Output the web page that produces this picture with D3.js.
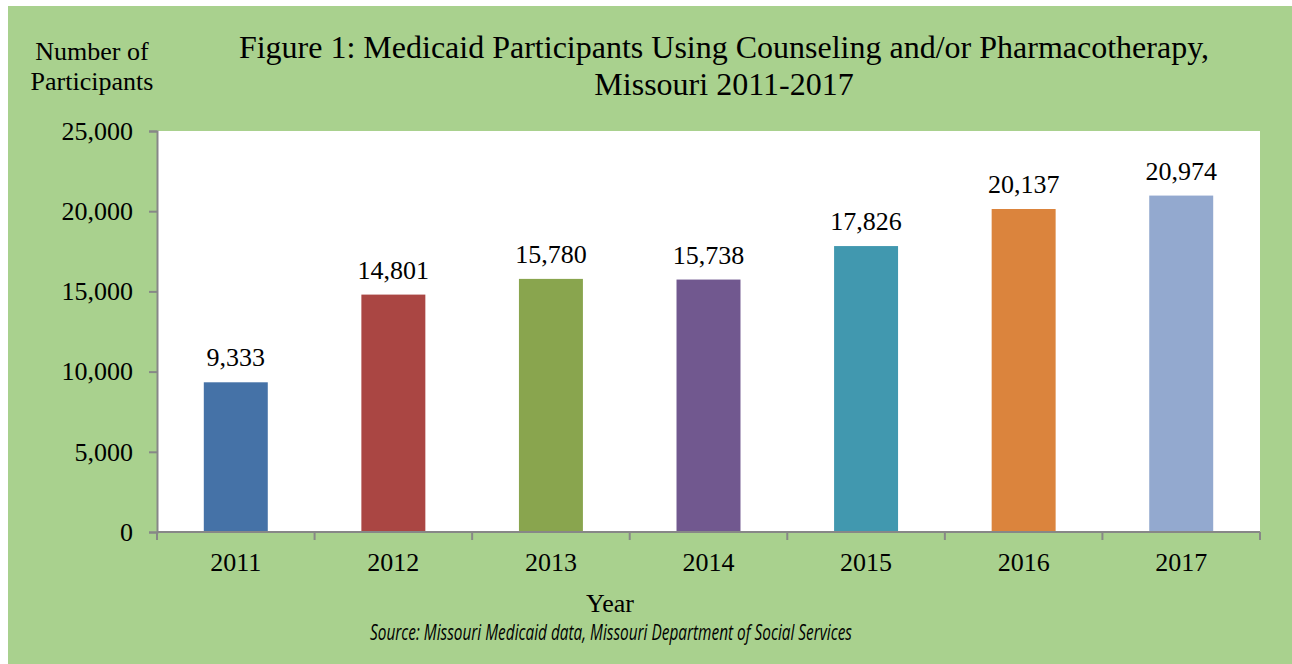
<!DOCTYPE html>
<html>
<head>
<meta charset="utf-8">
<script src="https://cdn.jsdelivr.net/npm/d3@7"></script>
<style>
  body { margin: 0; background: #ffffff; }
  svg { display: block; }
</style>
</head>
<body>
<script>
// chart data
var years   = ["2011", "2012", "2013", "2014", "2015", "2016", "2017"];
var counts  = [9333, 14801, 15780, 15738, 17826, 20137, 20974];
var colors  = ["#4572a7", "#aa4643", "#89a54e", "#71588f", "#4198af", "#db843d", "#93a9cf"];
var yTicks  = [0, 5000, 10000, 15000, 20000, 25000];

var width   = 1292,
    height  = 664;

var plot    = { left: 157, right: 1260, top: 131, bottom: 532 };
var serif   = "'Liberation Serif', 'Times New Roman', serif";

var svg     = d3.select("body")
                .append("svg")
                .attr("width", width)
                .attr("height", height);

// green card
svg.append("rect")
   .attr("x", 8).attr("y", 6)
   .attr("width", width - 8).attr("height", height - 6)
   .attr("fill", "#a9d18e");

// white plot area
svg.append("rect")
   .attr("x", plot.left).attr("y", plot.top)
   .attr("width", plot.right - plot.left)
   .attr("height", plot.bottom - plot.top)
   .attr("fill", "#ffffff");

var x = d3.scaleBand()
          .domain(years)
          .range([plot.left, plot.right])
          .paddingInner(0.594)
          .paddingOuter(0.297);

var y = d3.scaleLinear()
          .domain([0, 25000])
          .range([plot.bottom, plot.top]);

var fmt = d3.format(",");

// bars
svg.append("g")
   .selectAll("rect")
   .data(counts)
   .enter()
   .append("rect")
   .attr("x", function(d, i) { return x(years[i]); })
   .attr("y", function(d) { return y(d); })
   .attr("width", x.bandwidth())
   .attr("height", function(d) { return y(0) - y(d); })
   .attr("fill", function(d, i) { return colors[i]; });

// value labels
svg.append("g")
   .selectAll("text")
   .data(counts)
   .enter()
   .append("text")
   .attr("x", function(d, i) { return x(years[i]) + x.bandwidth() / 2; })
   .attr("y", function(d) { return y(d) - 16; })
   .attr("text-anchor", "middle")
   .style("font-family", serif)
   .style("font-size", "26px")
   .text(function(d) { return fmt(d); });

// y axis
var yAxis = svg.append("g")
               .attr("transform", "translate(" + plot.left + ",0)")
               .call(d3.axisLeft(y).tickValues(yTicks).tickFormat(fmt).tickSize(8).tickPadding(16));

// x axis, ticks on category boundaries
var step  = x.step();
var edges = d3.range(years.length + 1).map(function(i) { return plot.left + i * step; });

var xAxis = svg.append("g")
               .attr("transform", "translate(0," + plot.bottom + ")")
               .call(d3.axisBottom(x).tickSize(0).tickPadding(21));

xAxis.selectAll(".edge")
     .data(edges)
     .enter()
     .append("line")
     .attr("class", "edge")
     .attr("x1", function(d) { return d; })
     .attr("x2", function(d) { return d; })
     .attr("y1", 0)
     .attr("y2", 8);

[yAxis, xAxis].forEach(function(a) {
  a.selectAll("path.domain").attr("stroke", "#878787").attr("stroke-width", 2);
  a.selectAll("line").attr("stroke", "#878787").attr("stroke-width", 2);
  a.selectAll("text")
   .attr("fill", "#000")
   .style("font-family", serif)
   .style("font-size", "26px");
});
xAxis.select("path.domain").attr("d", "M" + plot.left + ",0H" + plot.right);

// titles
var title = svg.append("text")
               .attr("text-anchor", "middle")
               .style("font-family", serif)
               .style("font-size", "32px");
title.append("tspan").attr("x", 724).attr("y", 58)
     .text("Figure 1: Medicaid Participants Using Counseling and/or Pharmacotherapy,");
title.append("tspan").attr("x", 724).attr("y", 95)
     .text("Missouri 2011-2017");

var yLabel = svg.append("text")
                .attr("text-anchor", "middle")
                .style("font-family", serif)
                .style("font-size", "26px");
yLabel.append("tspan").attr("x", 92).attr("y", 60).text("Number of");
yLabel.append("tspan").attr("x", 92).attr("y", 90).text("Participants");

svg.append("text")
   .attr("x", 610).attr("y", 612)
   .attr("text-anchor", "middle")
   .style("font-family", serif)
   .style("font-size", "26px")
   .text("Year");

svg.append("text")
   .attr("x", 611).attr("y", 640)
   .attr("text-anchor", "middle")
   .attr("textLength", 482)
   .attr("lengthAdjust", "spacingAndGlyphs")
   .style("font-family", "'Open Sans', 'Noto Sans', sans-serif")
   .style("font-style", "italic")
   .style("font-size", "21px")
   .text("Source: Missouri Medicaid data, Missouri Department of Social Services");
</script>
</body>
</html>
